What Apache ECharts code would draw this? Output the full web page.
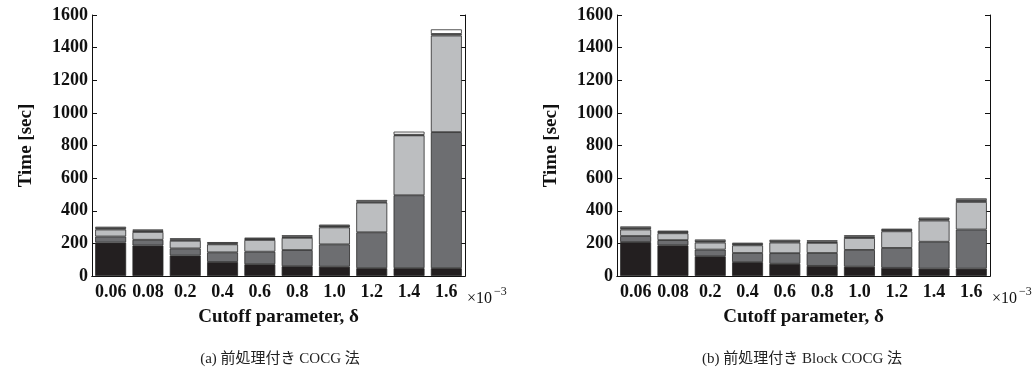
<!DOCTYPE html>
<html>
<head>
<meta charset="utf-8">
<script src="https://cdn.jsdelivr.net/npm/echarts@6/dist/echarts.min.js"></script>
<style>
  html, body { margin: 0; padding: 0; background: #fff; }
  #chart { width: 1035px; height: 373px; }
</style>
</head>
<body>
<div id="chart"></div>
<script>
var categories = ['0.06', '0.08', '0.2', '0.4', '0.6', '0.8', '1.0', '1.2', '1.4', '1.6'];
var yTicks = [0, 200, 400, 600, 800, 1000, 1200, 1400, 1600];

// (a) 前処理付き COCG 法 — stacked parts, bottom to top
var a1 = [205, 187, 125, 86, 72, 60, 57, 48, 48, 48];
var a2 = [37, 35, 44, 59, 77, 99, 137, 220, 447, 834];
var a3 = [43, 48, 47, 49, 72, 75, 104, 182, 367, 592];
var a4 = [8, 8, 8, 6, 7, 7, 8, 6, 4, 10];
var a5 = [9, 7, 7, 8, 7, 9, 9, 10, 19, 28];

// (b) 前処理付き Block COCG 法
var b1 = [208, 188, 121, 85, 75, 62, 57, 50, 45, 45];
var b2 = [37, 32, 41, 56, 65, 79, 103, 122, 165, 240];
var b3 = [40, 42, 43, 47, 65, 62, 73, 102, 130, 169];
var b4 = [9, 8, 9, 8, 8, 8, 8, 8, 8, 11];
var b5 = [10, 8, 10, 8, 9, 8, 9, 8, 10, 11];

var captions = ['(a) 前処理付き COCG 法', '(b) 前処理付き Block COCG 法'];
var colors = ['#231f20', '#6d6e71', '#bcbec0', '#939598', '#ffffff'];

var serif = '"Liberation Serif", "DejaVu Serif", serif';
var lines = { color: '#111', width: 1 };

function xAxes(gi) {
  return [{
    type: 'category', gridIndex: gi, data: categories, position: 'bottom',
    axisLine: { lineStyle: lines },
    axisTick: { inside: true, length: 5, lineStyle: lines },
    axisLabel: { interval: 0, fontFamily: serif, fontWeight: 'bold', fontSize: 18, color: '#111', margin: 7 },
    name: 'Cutoff parameter, δ', nameLocation: 'middle', nameGap: 32,
    nameTextStyle: { fontFamily: serif, fontWeight: 'bold', fontSize: 19, color: '#111' }
  }, {
    type: 'category', gridIndex: gi, data: categories, position: 'top',
    axisLine: { lineStyle: lines },
    axisTick: { inside: true, length: 5, lineStyle: lines },
    axisLabel: { show: false }
  }];
}

function yAxes(gi) {
  return [{
    type: 'value', gridIndex: gi, min: 0, max: 1600, interval: 200, position: 'left',
    axisLine: { show: true, lineStyle: lines },
    axisTick: { show: true, inside: true, length: 5, lineStyle: lines },
    splitLine: { show: false },
    axisLabel: {
      fontFamily: serif, fontWeight: 'bold', fontSize: 18, color: '#111', margin: 4,
      formatter: function (v) { return String(v); }
    },
    name: 'Time [sec]', nameLocation: 'middle', nameGap: 56, nameRotate: 90,
    nameTextStyle: { fontFamily: serif, fontWeight: 'bold', fontSize: 19, color: '#111' }
  }, {
    type: 'value', gridIndex: gi, min: 0, max: 1600, interval: 200, position: 'right',
    axisLine: { show: true, lineStyle: lines },
    axisTick: { show: true, inside: true, length: 5, lineStyle: lines },
    splitLine: { show: false },
    axisLabel: { show: false }
  }];
}

function stackSeries(parts, gi, stackName) {
  return parts.map(function (d, i) {
    return {
      type: 'bar', stack: stackName, data: d,
      xAxisIndex: gi * 2, yAxisIndex: gi * 2,
      barCategoryGap: '17%',
      itemStyle: { color: colors[i], borderColor: '#2a2a2a', borderWidth: 0.8 },
      emphasis: { disabled: true }
    };
  });
}

function expText(x, y) {
  return [
    { type: 'text', x: x, y: y, style: { text: '×10', fontFamily: serif, fontSize: 16, fill: '#111' } },
    { type: 'text', x: x + 27, y: y - 5, style: { text: '−3', fontFamily: serif, fontSize: 12, fill: '#111' } }
  ];
}

function caption(text, cx) {
  return {
    type: 'text', x: cx, y: 352,
    style: { text: text, fontFamily: '"Liberation Serif", "Noto Sans CJK JP", serif', fontSize: 15, fill: '#222', align: 'center' }
  };
}

var option = {
  backgroundColor: '#fff',
  animation: false,
  grid: [
    { left: 92, top: 15, width: 373, height: 261 },
    { left: 617, top: 15, width: 373, height: 261 }
  ],
  xAxis: xAxes(0).concat(xAxes(1)),
  yAxis: yAxes(0).concat(yAxes(1)),
  series: stackSeries([a1, a2, a3, a4, a5], 0, 'a').concat(stackSeries([b1, b2, b3, b4, b5], 1, 'b')),
  graphic: expText(467, 291).concat(expText(992, 291)).concat([
    caption(captions[0], 280),
    caption(captions[1], 802)
  ])
};

var myChart = echarts.init(document.getElementById('chart'));
myChart.setOption(option);
</script>
</body>
</html>
